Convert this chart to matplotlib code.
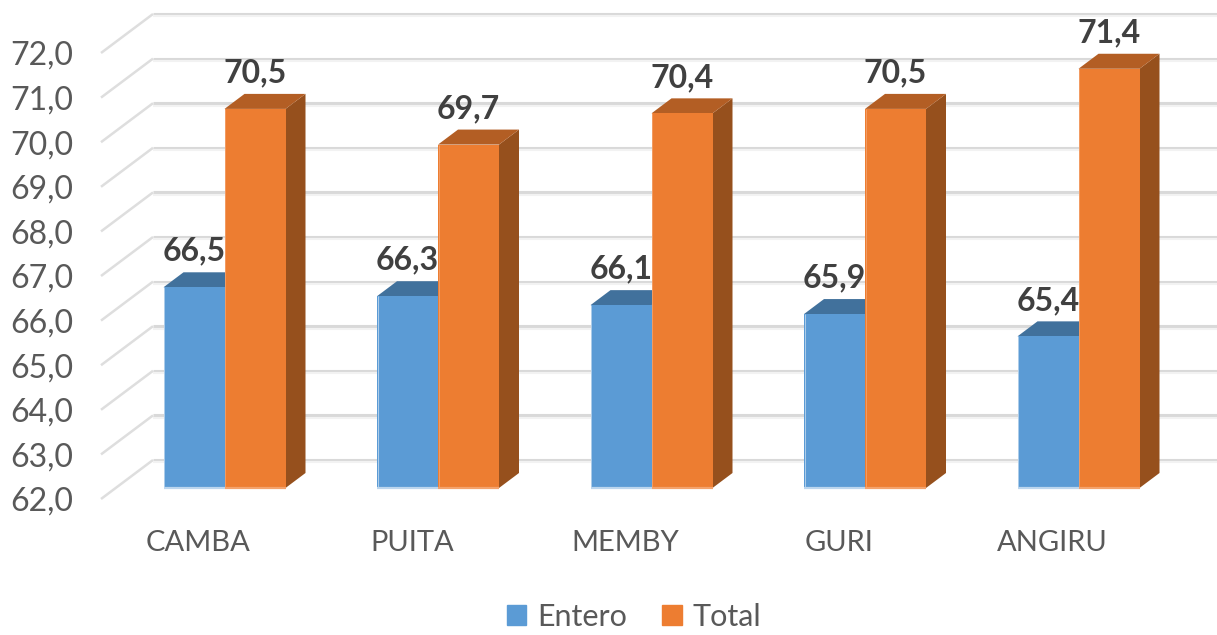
import matplotlib
matplotlib.use('Agg')
import matplotlib.pyplot as plt
from matplotlib.patches import Polygon, Patch

plt.rcParams['font.family'] = ['Lato', 'DejaVu Sans']

categories = ['CAMBA', 'PUITA', 'MEMBY', 'GURI', 'ANGIRU']
entero = [66.5, 66.3, 66.1, 65.9, 65.4]
total = [70.5, 69.7, 70.4, 70.5, 71.4]
yticks = [62, 63, 64, 65, 66, 67, 68, 69, 70, 71, 72]

# pixel scale of the picture
W, H = 1217, 635
px_x = 213.5     # px per category
px_y = 44.6      # px per unit of value
x0_px = 224.5    # where category 0 sits
left_px = 101
base_px = 499

bar_w = 61 / px_x
dx = 20 / px_x        # bar depth
dy = 15 / px_y
wall_dx = 52 / px_x   # floor/wall depth
wall_dy = 39 / px_y
shift = 11 / px_y     # bars stand a bit behind the axis front
label_off = 36 / px_y

def to_x(p):
    return (p - x0_px) / px_x

fig = plt.figure(figsize=(W / 100, H / 100), dpi=100)
ax = fig.add_axes([left_px / W, (H - base_px) / H, 1 - left_px / W, base_px / H])
ax.set_xlim(to_x(left_px), to_x(W))
ax.set_ylim(62, 62 + base_px / px_y)

for s in ax.spines.values():
    s.set_visible(False)

# gridlines, stub on the side wall then along the back wall
xa = to_x(left_px)
xb = xa + wall_dx
for v in yticks:
    ax.plot([xa, xb], [v, v + wall_dy], color='#dedede', lw=1.8, zorder=1, clip_on=False,
            solid_capstyle='butt')
    ax.plot([xb, to_x(W)], [v + wall_dy, v + wall_dy], color='#d9d9d9', lw=2.2, zorder=1,
            solid_capstyle='butt')
    ax.plot([xb, to_x(W)], [v + wall_dy - 2.5 / px_y] * 2, color='#f2f2f2', lw=1.5, zorder=1,
            solid_capstyle='butt')

def draw_bar(x, v, front, top, side, edge, z):
    bottom = 62 + shift
    topv = v + shift
    # side
    ax.add_patch(Polygon([(x + bar_w, bottom), (x + bar_w + dx, bottom + dy),
                          (x + bar_w + dx, topv + dy), (x + bar_w, topv)],
                         closed=True, fc=side, ec='none', zorder=z, clip_on=False))
    # top
    ax.add_patch(Polygon([(x, topv), (x + bar_w, topv), (x + bar_w + dx, topv + dy),
                          (x + dx, topv + dy)],
                         closed=True, fc=top, ec='none', zorder=z, clip_on=False))
    ax.bar(x, v - 62, width=bar_w, bottom=bottom, align='edge', color=front, zorder=z + 0.1,
           clip_on=False)
    # the pale rim along the bottom and left
    ax.plot([x, x + bar_w], [bottom, bottom], color=edge, lw=1.6, zorder=z + 0.2, clip_on=False,
            solid_capstyle='butt')
    ax.plot([x + 0.003, x + 0.003], [bottom, topv], color=edge, lw=0.6, zorder=z + 0.2,
            clip_on=False, solid_capstyle='butt')

for i in range(len(categories)):
    draw_bar(i - bar_w, entero[i], '#5b9bd5', '#41719c', '#3e6d99', '#bcd6ee', 3)
    draw_bar(i, total[i], '#ed7d31', '#b35e24', '#96501d', '#f4a26c', 4)

for i in range(len(categories)):
    ax.text(i - bar_w / 2, entero[i] + shift + label_off, f'{entero[i]:.1f}'.replace('.', ','),
            ha='center', va='center', fontsize=23, fontweight='bold', color='#404040', zorder=6)
    ax.text(i + bar_w / 2, total[i] + shift + label_off, f'{total[i]:.1f}'.replace('.', ','),
            ha='center', va='center', fontsize=23, fontweight='bold', color='#404040', zorder=6)

ax.set_yticks(yticks)
ax.set_yticklabels([f'{v:.1f}'.replace('.', ',') for v in yticks], fontsize=23, color='#595959')
ax.set_xticks([i - 26 / px_x for i in range(len(categories))])
ax.set_xticklabels(categories, fontsize=21, color='#595959')
ax.tick_params(axis='y', length=0, pad=20)
ax.tick_params(axis='x', length=0, pad=22)

handles = [Patch(color='#5b9bd5', label='Entero'), Patch(color='#ed7d31', label='Total')]
fig.legend(handles=handles, loc='center', bbox_to_anchor=(634 / W, 1 - 617 / H), ncol=2,
           frameon=False, fontsize=22, labelcolor='#595959', handlelength=0.65, handleheight=0.65,
           handletextpad=0.35, columnspacing=1.15, borderpad=0, borderaxespad=0)

fig.savefig('out.png', dpi=100)
